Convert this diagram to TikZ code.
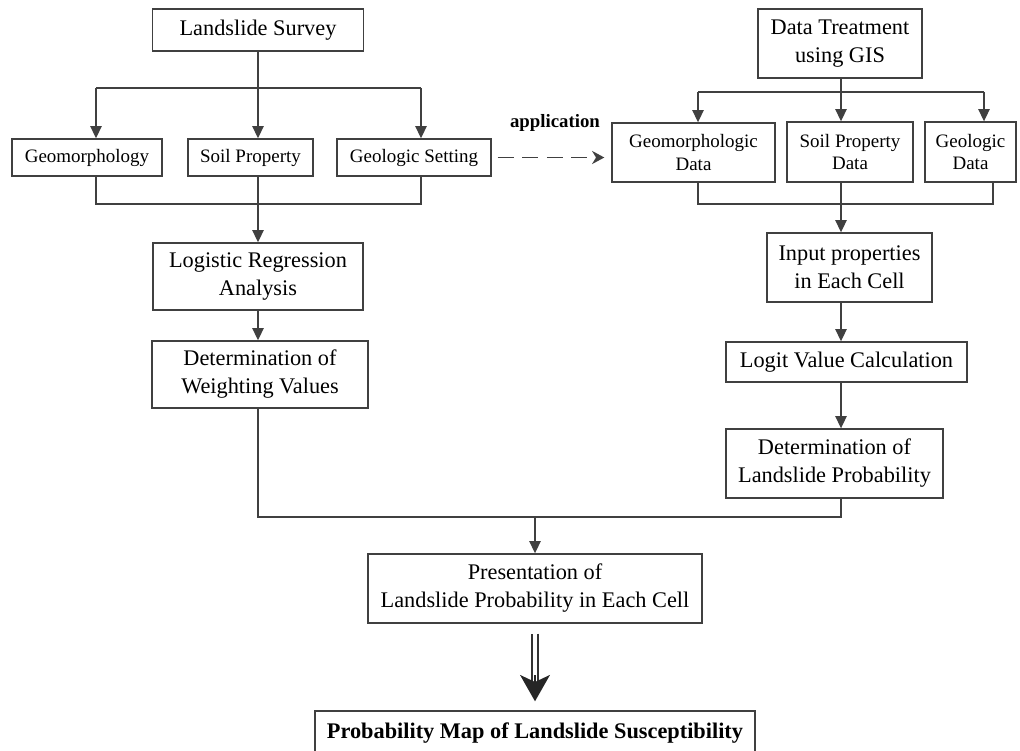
\documentclass[tikz,border=0pt]{standalone}
\usepackage{fontspec}
\setmainfont{Liberation Serif}
\usetikzlibrary{arrows.meta}
\tikzstyle{bx}=[draw=black!75,line width=0.8pt,align=center,inner sep=1pt,font=\fontsize{12.7}{15.9}\selectfont]
\tikzstyle{sbx}=[bx,font=\fontsize{10.8}{13}\selectfont]
\tikzstyle{ln}=[draw=black!75,line width=0.8pt]
\tikzstyle{arw}=[ln,-{Triangle[length=7pt,width=6.5pt]}]
\tikzstyle{dsh}=[ln,line width=1pt,dash pattern=on 9pt off 5pt,shorten <=0.12cm,shorten >=0.14cm,-{Stealth[length=7pt,width=7.5pt]}]

\begin{document}
\begin{tikzpicture}[x=0.02cm,y=-0.02cm]
\useasboundingbox (0,0) rectangle (1020,750);
% left side
\node[bx,minimum width=4.22cm,minimum height=0.84cm] (survey) at (258,30) {Landslide Survey};
\node[sbx,minimum width=3cm,minimum height=0.74cm] (geomorph) at (87,157.5) {Geomorphology};
\node[sbx,minimum width=2.5cm,minimum height=0.74cm] (soil) at (250.5,157.5) {Soil Property};
\node[sbx,minimum width=3.08cm,minimum height=0.74cm] (geoset) at (414,157.5) {Geologic Setting};
\node[bx,minimum width=4.2cm,minimum height=1.34cm] (logistic) at (258,276.5) {Logistic Regression\\Analysis};
\node[bx,minimum width=4.32cm,minimum height=1.34cm] (weight) at (260,374.5) {Determination of\\Weighting Values};
% right side
\node[bx,minimum width=3.28cm,minimum height=1.38cm] (gis) at (840,43.5) {Data Treatment\\using GIS};
\node[sbx,minimum width=3.26cm,minimum height=1.18cm] (geomdata) at (693.5,152.5) {Geomorphologic\\Data};
\node[sbx,minimum width=2.52cm,minimum height=1.2cm] (soildata) at (850,152) {Soil Property\\Data};
\node[sbx,minimum width=1.82cm,minimum height=1.2cm] (geodata) at (970.5,152) {Geologic\\Data};
\node[bx,minimum width=3.3cm,minimum height=1.38cm] (input) at (849.5,267.5) {Input properties\\in Each Cell};
\node[bx,minimum width=4.82cm,minimum height=0.8cm] (logit) at (846.5,362) {Logit Value Calculation};
\node[bx,minimum width=4.34cm,minimum height=1.38cm] (prob) at (834.5,463.5) {Determination of\\Landslide Probability};
% bottom
\node[bx,minimum width=6.68cm,minimum height=1.38cm] (present) at (535,588.5) {Presentation of\\Landslide Probability in Each Cell};
\node[bx,minimum width=8.8cm,minimum height=0.88cm,font=\fontsize{12.7}{15.9}\selectfont\bfseries] (map) at (535,733) {Probability Map of Landslide Susceptibility};
\node[font=\fontsize{10.7}{12}\selectfont\bfseries] (appl) at (555,123) {application};

% left connectors
\coordinate (t1) at (96,88); \coordinate (t3) at (421,88);
\coordinate (b1) at (96,204); \coordinate (b3) at (421,204);
\draw[ln] (survey.south) -- (survey.south |- t1);
\draw[ln] (t1) -- (t3);
\draw[arw] (t1) -- (t1 |- geomorph.north);
\draw[arw] (survey.south |- t1) -- (survey.south |- soil.north);
\draw[arw] (t3) -- (t3 |- geoset.north);
\draw[ln] (b1 |- geomorph.south) -- (b1) -- (b3) -- (b3 |- geoset.south);
\draw[arw] (logistic.north |- soil.south) -- (logistic.north);
\draw[arw] (logistic.south) -- (logistic.south |- weight.north);

% right connectors
\coordinate (u1) at (698,92); \coordinate (u2) at (841,92); \coordinate (u3) at (984,92);
\coordinate (l1) at (698,204); \coordinate (l2) at (841,204); \coordinate (l3) at (993,204);
\draw[ln] (u2 |- gis.south) -- (u2);
\draw[ln] (u1) -- (u3);
\draw[arw] (u1) -- (u1 |- geomdata.north);
\draw[arw] (u2) -- (u2 |- soildata.north);
\draw[arw] (u3) -- (u3 |- geodata.north);
\draw[ln] (l1 |- geomdata.south) -- (l1) -- (l3) -- (l3 |- geodata.south);
\draw[arw] (l2 |- soildata.south) -- (l2 |- input.north);
\draw[arw] (l2 |- input.south) -- (l2 |- logit.north);
\draw[arw] (l2 |- logit.south) -- (l2 |- prob.north);

% join and result
\coordinate (jl) at (258,517); \coordinate (jr) at (841,517);
\draw[ln] (jl |- weight.south) -- (jl) -- (jr) -- (jr |- prob.south);
\draw[arw] (present.north |- jl) -- (present.north);
\draw[dsh] (geoset.east) -- (geoset.east -| geomdata.west);
\draw[draw=black!80,line width=0.8pt,double distance=2.6pt] ([yshift=-0.2cm]present.south) -- ([yshift=0.45cm]map.north);
\draw[black!85,line width=0.8pt,-{Stealth[length=15pt,width=17pt,inset=4pt]}] ([yshift=0.7cm]map.north) -- ([yshift=0.18cm]map.north);
\end{tikzpicture}
\end{document}
